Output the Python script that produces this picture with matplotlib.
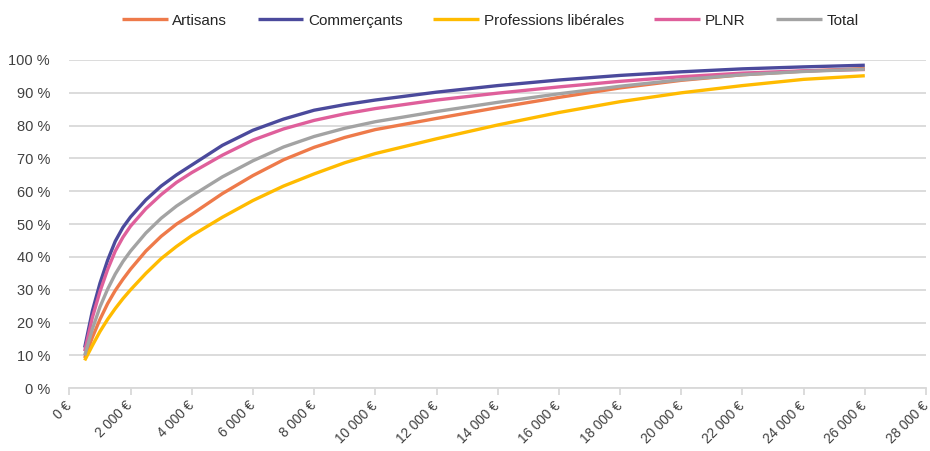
import matplotlib
matplotlib.use("Agg")
import matplotlib.pyplot as plt
from matplotlib.ticker import FixedLocator

plt.rcParams['font.family'] = ['Liberation Sans', 'DejaVu Sans']

revenus = [500, 750, 1000, 1250, 1500, 1750, 2000, 2500, 3000, 3500, 4000, 5000, 6000,
           7000, 8000, 9000, 10000, 12000, 14000, 16000, 18000, 20000, 22000, 24000, 26000]

artisans = [9.2, 15.5, 21.0, 25.8, 29.8, 33.2, 36.3, 41.8, 46.3, 50.0, 53.0, 59.3, 64.8,
            69.6, 73.4, 76.4, 78.8, 82.2, 85.5, 88.6, 91.5, 93.8, 95.5, 96.6, 97.4]
commercants = [12.4, 23.5, 32.0, 39.0, 44.8, 49.0, 52.2, 57.4, 61.6, 65.0, 68.0, 74.0, 78.6,
               82.0, 84.7, 86.4, 87.8, 90.2, 92.2, 93.9, 95.3, 96.4, 97.3, 97.9, 98.4]
prof_lib = [8.5, 13.0, 17.3, 21.0, 24.3, 27.3, 30.0, 35.0, 39.5, 43.2, 46.5, 52.1, 57.2,
            61.6, 65.3, 68.7, 71.5, 76.0, 80.2, 84.0, 87.3, 90.0, 92.2, 94.1, 95.2]
plnr = [11.3, 21.5, 29.5, 36.2, 41.8, 46.0, 49.4, 54.7, 59.0, 62.7, 65.7, 71.0, 75.6,
        79.0, 81.6, 83.6, 85.2, 87.8, 89.9, 91.8, 93.5, 94.9, 96.0, 96.7, 97.1]
total = [10.0, 18.0, 24.8, 30.2, 34.8, 38.6, 41.8, 47.3, 51.8, 55.5, 58.6, 64.4, 69.3,
         73.5, 76.7, 79.2, 81.2, 84.3, 87.1, 89.7, 92.0, 94.0, 95.5, 96.5, 97.2]

series_names = ["Artisans", "Commerçants", "Professions libérales", "PLNR", "Total"]
series_values = [artisans, commercants, prof_lib, plnr, total]
colors = ["#EE7A4A", "#4B4A9C", "#FFBB00", "#DF5F9B", "#A3A3A3"]

x_ticks = list(range(0, 28001, 2000))
x_tick_labels = [("{:,}".format(v)).replace(",", " ") + " €" for v in x_ticks]
y_ticks = list(range(0, 101, 10))
y_tick_labels = [f"{v} %" for v in y_ticks]

fig = plt.figure(figsize=(9.3, 4.51), dpi=100)
ax = fig.add_axes([0.0746, 0.139, 0.9211, 0.728])

for name, vals, c in zip(series_names, series_values, colors):
    ax.plot(revenus, vals, color=c, lw=2.4, label=name, solid_capstyle='butt',
            solid_joinstyle='round')

ax.set_xlim(0, 28000)
ax.set_ylim(0, 100)
ax.xaxis.set_major_locator(FixedLocator(x_ticks))
ax.set_xticklabels(x_tick_labels, rotation=45, ha='right', va='center',
                   rotation_mode='anchor', fontsize=9.8, color='#404040')
ax.yaxis.set_major_locator(FixedLocator(y_ticks))
ax.set_yticklabels(y_tick_labels, fontsize=10.5, color='#404040')

ax.grid(axis='y', color='#D9D9D9', lw=1.3)
ax.set_axisbelow(True)
for s in ['top', 'right', 'left']:
    ax.spines[s].set_visible(False)
ax.spines['bottom'].set_color('#D9D9D9')
ax.spines['bottom'].set_linewidth(1.3)
ax.tick_params(axis='x', length=5, color='#D9D9D9', width=1.3, pad=6)
ax.tick_params(axis='y', length=0, pad=14)

leg = fig.legend(loc='upper center', bbox_to_anchor=(0.527, 1.0), ncol=5, frameon=False,
                 fontsize=11, handlelength=3.0, handletextpad=0.3, columnspacing=2.0)
for t in leg.get_texts():
    t.set_color('#262626')

fig.savefig("out.png", dpi=100)
